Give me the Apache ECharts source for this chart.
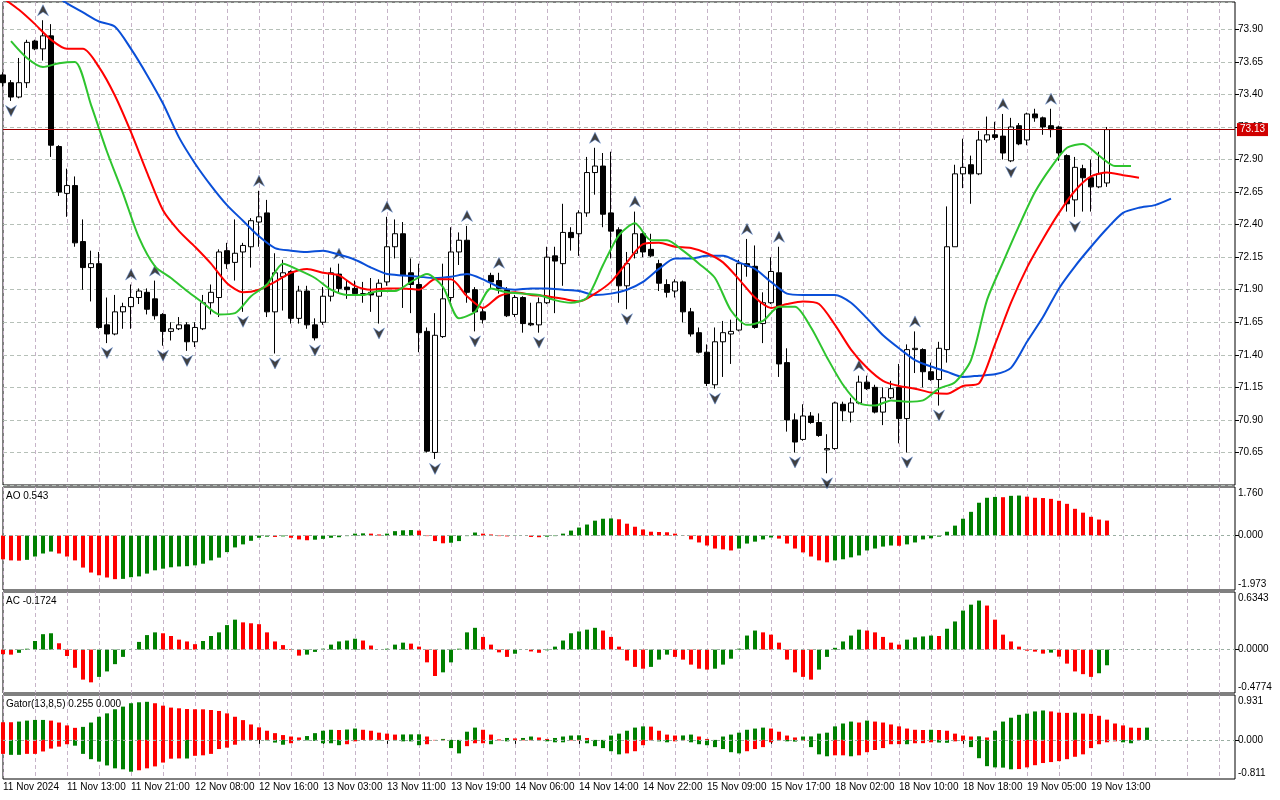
<!DOCTYPE html>
<html lang="en">
<head>
<meta charset="UTF-8">
<title>Alligator / AO / AC / Gator</title>
<script src="https://cdn.jsdelivr.net/npm/echarts@6/dist/echarts.min.js"></script>
<style>
  html, body { margin: 0; padding: 0; background: #fff; }
  #chart { width: 1280px; height: 800px; }
</style>
</head>
<body>
<div id="chart"></div>
<script>
// time labels, one every 8 bars
var timeLabels = ['11 Nov 2024', '11 Nov 13:00', '11 Nov 21:00', '12 Nov 08:00', '12 Nov 16:00',
  '13 Nov 03:00', '13 Nov 11:00', '13 Nov 19:00', '14 Nov 06:00', '14 Nov 14:00', '14 Nov 22:00',
  '15 Nov 09:00', '15 Nov 17:00', '18 Nov 02:00', '18 Nov 10:00', '18 Nov 18:00', '19 Nov 05:00',
  '19 Nov 13:00'];

// open, close, low, high
var candleOCLH = [
  [73.55,73.49,73.46,73.57],[73.49,73.38,73.35,73.51],[73.38,73.49,73.37,73.68],[73.49,73.80,73.45,73.82],
  [73.81,73.75,73.74,73.82],[73.75,73.85,73.66,73.97],[73.85,73.01,72.92,73.94],[73.00,72.65,72.62,73.01],
  [72.64,72.70,72.46,72.83],[72.70,72.26,72.23,72.77],[72.27,72.07,71.90,72.44],[72.07,72.10,71.81,72.20],
  [72.10,71.61,71.60,72.19],[71.63,71.56,71.49,71.84],[71.56,71.73,71.55,71.86],[71.73,71.77,71.60,71.80],
  [71.77,71.84,71.60,71.94],[71.84,71.89,71.79,71.91],[71.88,71.75,71.71,71.91],[71.83,71.70,71.67,71.97],
  [71.71,71.58,71.47,71.72],[71.58,71.60,71.51,71.65],[71.60,71.63,71.59,71.69],[71.63,71.50,71.43,71.65],
  [71.50,71.61,71.46,71.65],[71.60,71.80,71.59,71.86],[71.80,71.88,71.71,71.94],[71.84,72.19,71.69,72.21],
  [72.20,72.10,72.06,72.26],[72.11,72.18,71.97,72.44],[72.19,72.24,71.73,72.26],[72.23,72.43,72.07,72.45],
  [72.42,72.46,72.23,72.66],[72.49,71.73,71.69,72.59],[71.73,72.03,71.41,72.18],[72.00,72.03,71.74,72.13],
  [72.04,71.68,71.64,72.05],[71.68,71.89,71.64,71.93],[71.89,71.63,71.60,71.93],[71.63,71.53,71.51,71.68],
  [71.65,71.85,71.63,71.92],[71.85,72.03,71.81,72.07],[72.02,71.91,71.87,72.10],[71.92,71.90,71.83,71.97],
  [71.91,71.87,71.86,71.97],[71.87,71.87,71.80,71.96],[71.88,71.86,71.73,71.99],[71.85,71.95,71.64,71.98],
  [71.96,72.23,71.93,72.46],[72.23,72.33,72.14,72.44],[72.33,72.01,71.76,72.42],[72.03,71.94,71.72,72.14],
  [71.94,71.57,71.42,72.10],[71.58,70.66,70.65,71.61],[70.65,71.55,70.60,71.72],[71.54,71.83,71.53,72.10],
  [71.84,72.19,71.80,72.38],[72.19,72.28,72.09,72.34],[72.28,71.88,71.80,72.39],[71.90,71.73,71.58,71.92],
  [71.73,71.67,71.64,71.76],[72.01,71.96,71.91,72.03],[71.97,71.91,71.87,72.03],[71.90,71.70,71.69,71.92],
  [71.71,71.84,71.69,71.86],[71.84,71.64,71.57,71.85],[71.64,71.63,71.62,71.80],[71.63,71.80,71.57,71.84],
  [71.80,72.15,71.79,72.23],[72.16,72.12,71.72,72.23],[72.10,72.34,71.93,72.56],[72.34,72.30,72.20,72.38],
  [72.33,72.49,72.16,72.51],[72.49,72.80,72.46,72.92],[72.80,72.85,72.63,72.99],[72.85,72.48,72.38,72.95],
  [72.49,72.35,72.14,72.96],[72.36,71.93,71.80,72.38],[71.93,72.10,71.75,72.19],[72.18,72.33,72.14,72.50],
  [72.33,72.19,72.15,72.34],[72.21,72.16,72.15,72.33],[72.10,71.95,71.89,72.13],[71.94,71.88,71.84,71.98],
  [71.89,71.96,71.84,71.98],[71.96,71.73,71.65,71.97],[71.73,71.56,71.54,71.76],[71.57,71.42,71.41,71.61],
  [71.42,71.18,71.16,71.48],[71.17,71.50,71.14,71.61],[71.50,71.57,71.23,71.66],[71.56,71.58,71.33,71.67],
  [71.59,72.10,71.58,72.13],[72.10,72.08,72.00,72.29],[72.08,71.61,71.60,72.24],[71.64,71.80,71.49,71.88],
  [71.80,72.04,71.79,72.15],[72.03,71.33,71.23,72.23],[71.34,70.90,70.81,71.45],[70.90,70.73,70.65,70.95],
  [70.75,70.93,70.74,71.02],[70.93,70.88,70.87,70.96],[70.88,70.78,70.77,70.95],[70.67,70.68,70.49,70.79],
  [70.68,71.03,70.67,71.04],[71.02,70.97,70.89,71.04],[70.96,71.03,70.88,71.07],[71.03,71.19,71.02,71.24],
  [71.19,71.14,71.13,71.24],[71.15,70.96,70.95,71.17],[70.96,71.07,70.86,71.15],[71.07,71.14,71.06,71.20],
  [71.15,70.91,70.72,71.33],[70.91,71.44,70.65,71.48],[71.44,71.45,71.26,71.58],[71.44,71.27,71.15,71.45],
  [71.27,71.21,71.20,71.34],[71.21,71.45,71.01,71.50],[71.44,72.23,71.34,72.54],[72.23,72.79,72.23,72.86],
  [72.79,72.84,72.68,73.06],[72.86,72.79,72.56,72.93],[72.79,73.05,72.78,73.12],[73.05,73.09,73.03,73.23],
  [73.09,73.07,73.05,73.19],[73.08,72.95,72.90,73.25],[72.89,73.15,72.88,73.22],[73.16,73.02,73.01,73.18],
  [73.05,73.25,73.01,73.26],[73.25,73.22,73.19,73.29],[73.22,73.15,73.09,73.23],[73.16,73.13,73.07,73.29],
  [73.15,72.95,72.89,73.16],[72.93,72.56,72.50,72.94],[72.59,72.84,72.46,72.92],[72.83,72.76,72.50,72.86],
  [72.76,72.69,72.50,72.90],[72.69,72.79,72.68,72.96],[72.72,73.13,72.69,73.15]
];

// bars carrying a fractal
var upFractals = [5, 16, 19, 32, 42, 48, 58, 62, 74, 79, 93, 97, 107, 114, 125, 131];
var downFractals = [1, 13, 20, 23, 30, 34, 39, 47, 54, 59, 67, 78, 89, 99, 103, 113, 117, 126, 134];

// alligator lines, read every second bar
var jawStart = 6;
var jaw = [74.18,74.10,74.03,73.96,73.92,73.75,73.55,73.33,73.07,72.87,
  72.70,72.55,72.43,72.31,72.22,72.20,72.19,72.20,72.17,72.13,
  72.07,72.02,72.01,72.00,71.99,72.00,72.02,71.98,71.92,71.90,
  71.91,71.91,71.90,71.89,71.86,71.87,71.90,71.96,72.06,72.14,
  72.14,72.16,72.16,72.11,72.06,71.96,71.87,71.86,71.86,71.86,
  71.80,71.68,71.55,71.45,71.36,71.31,71.27,71.23,71.24,71.25,
  71.30,71.50,71.69,71.91,72.08,72.23,72.37,72.49,72.53,72.55,
  72.60];
var teethStart = 0;
var teeth = [74.14,74.05,73.94,73.82,73.75,73.75,73.61,73.39,73.11,72.80,
  72.51,72.35,72.23,72.10,71.95,71.88,71.90,71.96,72.03,72.06,
  72.03,72.01,71.93,71.90,71.91,71.91,71.90,71.98,71.98,71.85,
  71.76,71.85,71.88,71.86,71.85,71.83,71.81,71.87,71.96,72.11,
  72.25,72.26,72.23,72.22,72.18,72.11,71.98,71.84,71.76,71.79,
  71.81,71.79,71.63,71.44,71.30,71.20,71.16,71.14,71.11,71.10,
  71.16,71.18,71.48,71.80,72.07,72.29,72.49,72.66,72.77,72.80,
  72.78,72.76];
var lipsStart = 1;
var lips = [73.81,73.68,73.61,73.64,73.65,73.32,72.96,72.64,72.30,72.08,
  71.99,71.89,71.80,71.71,71.72,71.85,71.94,72.10,72.05,71.99,
  71.90,71.86,71.86,71.89,71.89,71.96,72.02,71.92,71.68,71.73,
  71.91,71.88,71.87,71.86,71.82,71.80,71.84,72.09,72.32,72.41,
  72.28,72.28,72.20,72.10,71.99,71.74,71.63,71.66,71.77,71.77,
  71.61,71.38,71.17,71.03,71.01,71.05,71.04,71.05,71.14,71.19,
  71.36,71.82,72.11,72.39,72.65,72.84,72.99,73.02,72.93,72.85,
  72.85];

var ao = [-0.86,-0.90,-0.91,-0.88,-0.76,-0.65,-0.58,-0.65,-0.76,-0.90,
  -1.16,-1.34,-1.44,-1.52,-1.58,-1.57,-1.51,-1.48,-1.38,-1.26,
  -1.20,-1.15,-1.12,-1.11,-1.08,-1.02,-0.90,-0.80,-0.60,-0.43,
  -0.32,-0.19,-0.08,-0.04,-0.05,-0.03,-0.08,-0.14,-0.17,-0.15,
  -0.12,-0.08,-0.06,-0.02,0.07,0.08,0.07,0.04,0.07,0.16,
  0.19,0.20,0.18,-0.02,-0.20,-0.28,-0.26,-0.20,-0.02,0.11,
  0.07,0.04,-0.02,-0.03,-0.01,0.00,-0.05,-0.06,-0.04,-0.02,
  0.07,0.18,0.29,0.40,0.54,0.61,0.62,0.59,0.43,0.32,
  0.22,0.14,0.13,0.12,0.07,-0.01,-0.14,-0.25,-0.36,-0.47,
  -0.50,-0.54,-0.47,-0.29,-0.22,-0.14,-0.07,-0.11,-0.29,-0.47,
  -0.61,-0.76,-0.90,-0.97,-0.90,-0.86,-0.79,-0.72,-0.54,-0.47,
  -0.40,-0.36,-0.37,-0.32,-0.25,-0.14,-0.10,-0.04,0.14,0.36,
  0.61,0.86,1.19,1.37,1.40,1.39,1.44,1.45,1.41,1.37,
  1.36,1.33,1.26,1.15,0.97,0.83,0.68,0.58,0.543];

var ac = [-0.05,-0.055,-0.035,0.01,0.095,0.17,0.18,0.07,-0.07,-0.20,
  -0.33,-0.36,-0.30,-0.24,-0.16,-0.08,0.00,0.085,0.16,0.19,
  0.18,0.15,0.11,0.09,0.06,0.095,0.15,0.19,0.27,0.33,
  0.30,0.29,0.28,0.19,0.09,0.05,0.007,-0.066,-0.055,-0.025,
  0.01,0.055,0.09,0.10,0.12,0.10,0.045,0.00,0.01,0.055,
  0.077,0.066,0.033,-0.14,-0.29,-0.25,-0.14,0.01,0.19,0.24,
  0.14,0.055,-0.03,-0.08,-0.045,0.00,-0.02,-0.035,-0.007,0.033,
  0.10,0.18,0.20,0.22,0.24,0.21,0.14,0.033,-0.12,-0.19,
  -0.21,-0.19,-0.11,-0.055,-0.08,-0.11,-0.165,-0.21,-0.22,-0.21,
  -0.165,-0.10,0.01,0.155,0.21,0.19,0.165,0.077,-0.11,-0.25,
  -0.30,-0.33,-0.22,-0.08,0.02,0.09,0.155,0.22,0.21,0.19,
  0.14,0.077,0.055,0.11,0.135,0.145,0.155,0.15,0.23,0.31,
  0.43,0.495,0.54,0.485,0.33,0.165,0.09,0.033,-0.011,-0.022,
  -0.044,-0.033,-0.077,-0.154,-0.24,-0.27,-0.30,-0.26,-0.1724];

var gatorUp = [0.366,0.366,0.38,0.40,0.414,0.414,0.40,0.36,0.30,0.25,
  0.27,0.36,0.48,0.55,0.635,0.69,0.76,0.78,0.79,0.76,
  0.71,0.67,0.655,0.64,0.635,0.634,0.62,0.60,0.55,0.48,
  0.41,0.32,0.26,0.19,0.14,0.10,0.07,0.05,0.08,0.14,
  0.19,0.21,0.205,0.215,0.235,0.21,0.19,0.15,0.13,0.11,
  0.112,0.114,0.116,0.07,0.0,0.02,0.0,0.0,0.17,0.255,
  0.21,0.11,0.01,0.04,0.03,0.04,0.07,0.05,0.02,0.04,
  0.07,0.09,0.095,0.04,0.0,0.0,0.09,0.13,0.19,0.255,
  0.28,0.275,0.19,0.11,0.09,0.092,0.11,0.07,0.02,0.0,
  0.07,0.11,0.15,0.21,0.235,0.255,0.235,0.17,0.09,0.05,
  0.07,0.072,0.13,0.15,0.28,0.34,0.38,0.36,0.40,0.38,
  0.36,0.32,0.28,0.235,0.21,0.205,0.21,0.205,0.19,0.13,
  0.09,0.07,0.075,0.05,0.19,0.38,0.46,0.52,0.545,0.59,
  0.61,0.59,0.565,0.56,0.566,0.545,0.54,0.50,0.42,0.34,
  0.30,0.255,0.25,0.255];

var gatorDown = [-0.29,-0.31,-0.31,-0.29,-0.29,-0.24,-0.18,-0.14,-0.09,-0.12,
  -0.29,-0.40,-0.45,-0.53,-0.59,-0.61,-0.66,-0.63,-0.59,-0.55,
  -0.47,-0.39,-0.385,-0.386,-0.33,-0.32,-0.29,-0.19,-0.16,-0.10,
  -0.014,0,0,-0.01,-0.055,-0.10,-0.07,0,-0.01,-0.02,
  -0.07,-0.07,-0.11,-0.09,-0.03,0,0,-0.01,0,-0.01,
  -0.03,-0.03,-0.11,-0.09,-0.01,-0.01,-0.17,-0.28,-0.13,-0.07,
  -0.07,-0.09,-0.01,-0.03,-0.01,-0.01,-0.01,-0.01,-0.03,-0.05,
  -0.05,-0.01,-0.01,-0.07,-0.13,-0.17,-0.235,-0.30,-0.28,-0.235,
  -0.11,-0.01,-0.03,-0.05,-0.03,-0.01,-0.05,-0.09,-0.11,-0.15,
  -0.19,-0.255,-0.28,-0.235,-0.19,-0.15,-0.05,-0.01,-0.03,-0.035,
  -0.02,-0.15,-0.30,-0.34,-0.32,-0.32,-0.34,-0.32,-0.255,-0.21,
  -0.17,-0.09,-0.088,-0.09,-0.07,-0.068,-0.05,-0.055,-0.06,-0.03,
  -0.025,-0.15,-0.38,-0.545,-0.57,-0.575,-0.61,-0.605,-0.57,-0.525,
  -0.48,-0.46,-0.44,-0.40,-0.35,-0.30,-0.17,-0.09,-0.05,-0.03,
  -0.05,-0.07,0,0];

var priceRange = [70.40, 74.11];
var aoRange = [-1.973, 1.760];
var acRange = [-0.4774, 0.6343];
var gatorRange = [-0.811, 0.931];
var slots = 155;

var GREEN = '#008000', RED = '#ff0000';
var FONT = 'Liberation Sans';

var categories = [];
for (var i = 0; i < slots; i++) {
  categories.push(i % 8 === 0 && timeLabels[i / 8] ? timeLabels[i / 8] : '');
}

function stepped(start, arr) {
  return arr.map(function (v, k) { return [start + 2 * k, v]; });
}

// green when the value grows, red when it falls (compare absolute values if asked)
function colored(vals, useAbs) {
  var col = RED;
  return vals.map(function (v, k) {
    if (k > 0) {
      var a = useAbs ? Math.abs(v) : v, b = useAbs ? Math.abs(vals[k - 1]) : vals[k - 1];
      if (a > b) col = GREEN; else if (a < b) col = RED;
    }
    return { value: v, itemStyle: { color: col } };
  });
}

var lastClose = candleOCLH[candleOCLH.length - 1][1];

function xAxisFor(grid, labels) {
  return {
    type: 'category', gridIndex: grid, data: categories, boundaryGap: false,
    axisLine: { show: false },
    axisTick: {
      show: labels, length: 4, lineStyle: { color: '#000' },
      interval: function (i) { return i % 8 === 0 && i / 8 < timeLabels.length; }
    },
    axisLabel: {
      show: labels, align: 'left', margin: 3, fontSize: 10, color: '#000', fontFamily: FONT,
      interval: function (i, v) { return v !== ''; }
    },
    splitLine: { show: true, interval: 3, lineStyle: { color: '#c6b4c8', type: [4, 3], width: 1 } }
  };
}

function indicatorAxis(grid, range, digits) {
  var vals = [range[0], 0, range[1]];
  return {
    type: 'value', gridIndex: grid, position: 'right', min: range[0], max: range[1],
    splitLine: { show: false }, axisLine: { show: false },
    axisTick: { show: true, length: 4, lineStyle: { color: '#000' }, customValues: [0] },
    axisLabel: {
      customValues: vals, color: '#000', fontSize: 10, margin: 3, fontFamily: FONT,
      formatter: function (v) {
        var s = v.toFixed(digits);
        if (Math.abs(v - range[1]) < 1e-9) return '{t|' + s + '}';
        if (Math.abs(v - range[0]) < 1e-9) return '{b|' + s + '}';
        return s;
      },
      rich: {
        t: { padding: [12, 0, 0, 0], fontSize: 10, color: '#000', fontFamily: FONT },
        b: { padding: [0, 0, 12, 0], fontSize: 10, color: '#000', fontFamily: FONT }
      }
    }
  };
}

var zeroLine = {
  silent: true, symbol: 'none', label: { show: false },
  lineStyle: { color: '#9aaea2', type: [3, 3], width: 1 },
  data: [{ yAxis: 0 }]
};

// fractal arrowheads
var upArrow = 'path://M6,0 L12,12 L6,8 L0,12 Z';
var downArrow = 'path://M0,0 L6,4 L12,0 L6,12 Z';

var gridBox = { show: true, borderColor: '#000', borderWidth: 1, left: 3, width: 1232 };
function gridAt(top, height) {
  return Object.assign({}, gridBox, { top: top, height: height });
}

var titleStyle = { fontSize: 10, fontWeight: 'normal', color: '#000', fontFamily: FONT };

var chart = echarts.init(document.getElementById('chart'), null, { renderer: 'canvas' });
chart.setOption({
  animation: false,
  backgroundColor: '#fff',
  textStyle: { fontFamily: FONT },
  title: [
    { text: 'AO ' + ao[ao.length - 1].toFixed(3), left: 6, top: 491, padding: 0, textStyle: titleStyle },
    { text: 'AC ' + ac[ac.length - 1].toFixed(4), left: 6, top: 596, padding: 0, textStyle: titleStyle },
    { text: 'Gator(13,8,5) ' + gatorUp[gatorUp.length - 1].toFixed(3) + ' ' +
        Math.abs(gatorDown[gatorDown.length - 1]).toFixed(3), left: 6, top: 699, padding: 0, textStyle: titleStyle }
  ],
  grid: [gridAt(2, 483), gridAt(487, 103), gridAt(592, 101), gridAt(695, 84)],
  xAxis: [xAxisFor(0, false), xAxisFor(1, false), xAxisFor(2, false), xAxisFor(3, true)],
  yAxis: [
    {
      type: 'value', gridIndex: 0, position: 'right', min: priceRange[0], max: priceRange[1], interval: 0.25,
      axisLine: { show: false },
      axisTick: { show: true, length: 4, lineStyle: { color: '#000' } },
      axisLabel: {
        showMinLabel: false, showMaxLabel: false, margin: 3, fontSize: 10, color: '#000', fontFamily: FONT,
        formatter: function (v) { return v.toFixed(2); }
      },
      splitLine: { show: true, lineStyle: { color: '#b6c0b8', type: [4, 3], width: 1 } }
    },
    indicatorAxis(1, aoRange, 3),
    indicatorAxis(2, acRange, 4),
    indicatorAxis(3, gatorRange, 3)
  ],
  series: [
    {
      type: 'candlestick', xAxisIndex: 0, yAxisIndex: 0, data: candleOCLH, barWidth: 5,
      itemStyle: { color: '#fff', color0: '#000', borderColor: '#000', borderColor0: '#000', borderWidth: 1 },
      markLine: {
        silent: true, symbol: 'none',
        lineStyle: { color: '#9a0000', width: 1, type: 'solid' },
        label: {
          show: true, position: 'end', distance: 2, formatter: lastClose.toFixed(2),
          color: '#fff', backgroundColor: '#d00000', padding: [2, 3, 1, 3], fontSize: 10, fontFamily: FONT
        },
        data: [{ yAxis: lastClose }]
      }
    },
    { name: 'Jaw', type: 'line', xAxisIndex: 0, yAxisIndex: 0, data: stepped(jawStart, jaw),
      showSymbol: false, symbol: 'none', smooth: 0.25, lineStyle: { color: '#0a4fd8', width: 2 } },
    { name: 'Teeth', type: 'line', xAxisIndex: 0, yAxisIndex: 0, data: stepped(teethStart, teeth),
      showSymbol: false, symbol: 'none', smooth: 0.25, lineStyle: { color: '#ff0000', width: 2 } },
    { name: 'Lips', type: 'line', xAxisIndex: 0, yAxisIndex: 0, data: stepped(lipsStart, lips),
      showSymbol: false, symbol: 'none', smooth: 0.25, lineStyle: { color: '#2ec42e', width: 2 } },
    { type: 'scatter', xAxisIndex: 0, yAxisIndex: 0, symbol: upArrow, symbolSize: [11, 11], symbolOffset: [0, -10],
      itemStyle: { color: '#111', borderColor: '#5a8ad8', borderWidth: 0.6 },
      data: upFractals.map(function (b) { return [b, candleOCLH[b][3]]; }) },
    { type: 'scatter', xAxisIndex: 0, yAxisIndex: 0, symbol: downArrow, symbolSize: [11, 11], symbolOffset: [0, 10],
      itemStyle: { color: '#111', borderColor: '#5a8ad8', borderWidth: 0.6 },
      data: downFractals.map(function (b) { return [b, candleOCLH[b][2]]; }) },
    { type: 'bar', xAxisIndex: 1, yAxisIndex: 1, barWidth: 4, data: colored(ao, false), markLine: zeroLine },
    { type: 'bar', xAxisIndex: 2, yAxisIndex: 2, barWidth: 4, data: colored(ac, false), markLine: zeroLine },
    { type: 'bar', xAxisIndex: 3, yAxisIndex: 3, barWidth: 4, barGap: '-100%', data: colored(gatorUp, false), markLine: zeroLine },
    { type: 'bar', xAxisIndex: 3, yAxisIndex: 3, barWidth: 4, barGap: '-100%', data: colored(gatorDown, true) }
  ]
});
</script>
</body>
</html>
